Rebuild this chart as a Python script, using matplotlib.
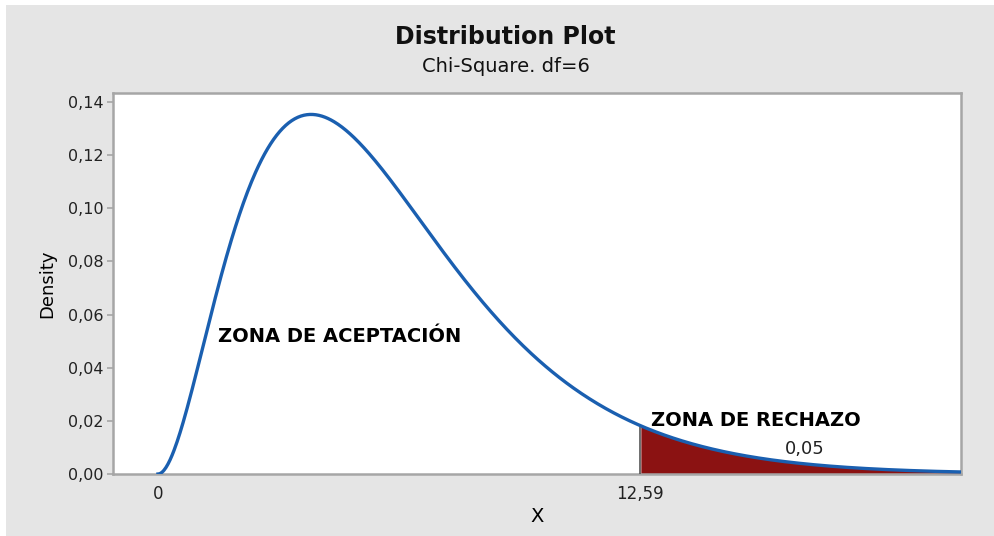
import numpy as np
import matplotlib
matplotlib.use("Agg")
import matplotlib.pyplot as plt
from math import gamma

df = 6
critical_value = 12.59
alpha_label = "0,05"
y_ticks = [0.00, 0.02, 0.04, 0.06, 0.08, 0.10, 0.12, 0.14]
y_tick_labels = ["0,00", "0,02", "0,04", "0,06", "0,08", "0,10", "0,12", "0,14"]
x_ticks = [0, critical_value]
x_tick_labels = ["0", "12,59"]

x = np.linspace(0, 21, 800)
k = df / 2.0
pdf = x ** (k - 1) * np.exp(-x / 2) / (2 ** k * gamma(k))

fig = plt.figure(figsize=(9.95, 5.36), dpi=100, facecolor="white")
bg = plt.Rectangle((6 / 995, 0), 1, 1 - 5 / 536, transform=fig.transFigure,
                   facecolor="#e5e5e5", edgecolor="none", zorder=-10)
fig.patches.append(bg)

ax = fig.add_axes([113 / 995, 1 - 474 / 536, (961 - 113) / 995, (474 - 93) / 536])
ax.set_facecolor("white")

mask = x >= critical_value
ax.fill_between(x[mask], 0, pdf[mask], color="#8b1212", linewidth=0, zorder=2)
y_crit = critical_value ** (k - 1) * np.exp(-critical_value / 2) / (2 ** k * gamma(k))
ax.plot([critical_value, critical_value], [0, y_crit], color="#555555", lw=1.2, zorder=3)
ax.plot(x, pdf, color="#1a5fb0", lw=2.4, zorder=4)

ax.set_xlim(-1.175, 20.98)
ax.set_ylim(0, 0.1434)
ax.set_yticks(y_ticks)
ax.set_yticklabels(y_tick_labels)
ax.set_xticks(x_ticks)
ax.set_xticklabels(x_tick_labels)

for s in ax.spines.values():
    s.set_color("#a6a6a6")
    s.set_linewidth(1.8)
ax.tick_params(axis="y", colors="#a6a6a6", labelcolor="#222222", length=4, width=1.2,
               labelsize=11.5, pad=3)
ax.tick_params(axis="x", length=0, labelcolor="#222222", labelsize=12, pad=8)

ax.set_ylabel("Density", fontsize=13, color="black", labelpad=8)
ax.set_xlabel("X", fontsize=14, color="black", labelpad=3)

fig.text(505 / 995, 1 - 37 / 536, "Distribution Plot", ha="center", va="center",
         fontsize=17, fontweight="bold", color="#111111")
fig.text(506 / 995, 1 - 67 / 536, "Chi-Square. df=6", ha="center", va="center",
         fontsize=14, color="#111111")

ax.text(1.58, 0.0517, "ZONA DE ACEPTACIÓN", fontsize=14, fontweight="heavy",
        ha="left", va="center", color="black")
ax.text(12.88, 0.0203, "ZONA DE RECHAZO", fontsize=14, fontweight="heavy",
        ha="left", va="center", color="black")
ax.text(16.38, 0.0095, alpha_label, fontsize=13, ha="left", va="center", color="#222222")

fig.savefig("out.png", dpi=100, facecolor=fig.get_facecolor())
